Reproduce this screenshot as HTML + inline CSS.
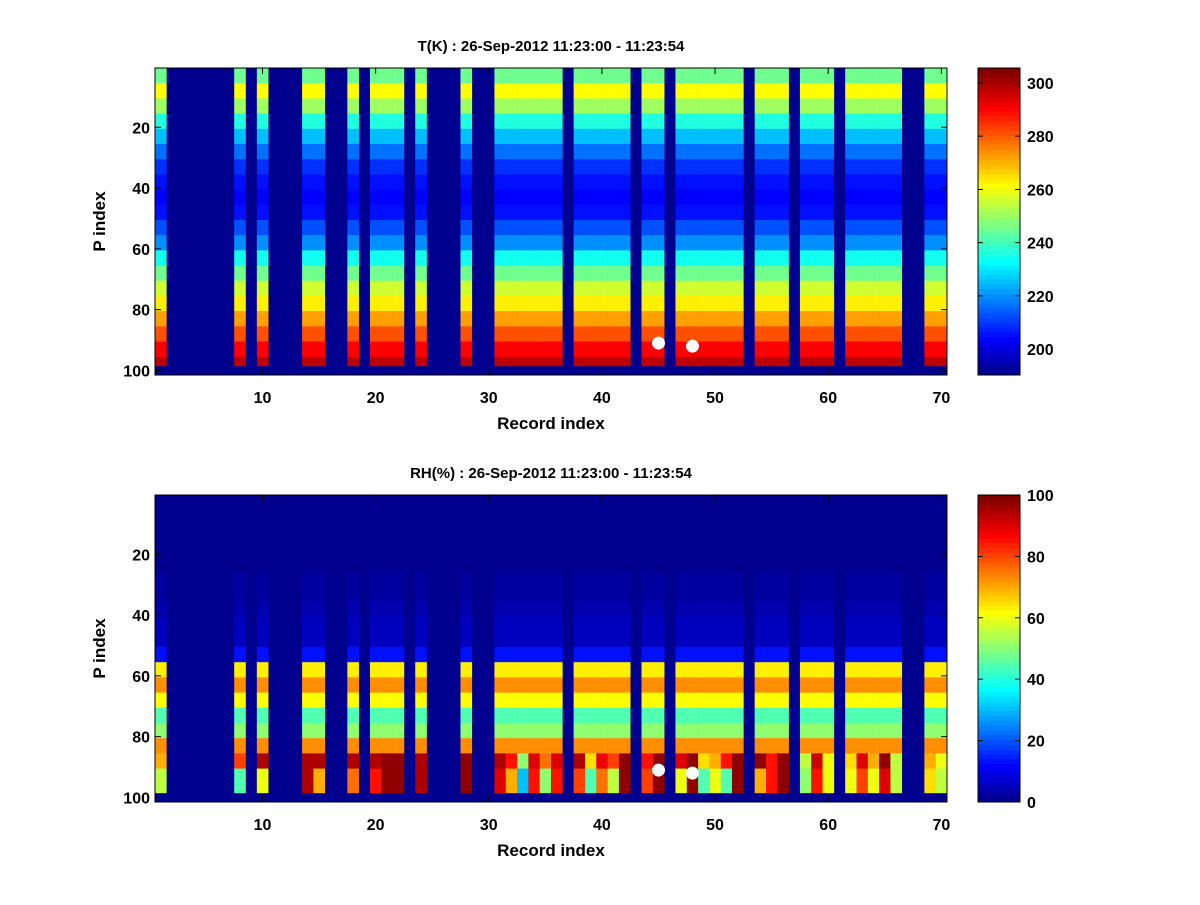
<!DOCTYPE html>
<html><head><meta charset="utf-8"><style>
html,body{margin:0;padding:0;background:#fff;}
svg text{font-family:"Liberation Sans",Arial,sans-serif;font-weight:bold;fill:#000;}
</style></head><body>
<svg id="fig" width="1200" height="900" viewBox="0 0 1200 900" xmlns="http://www.w3.org/2000/svg">
<rect width="1200" height="900" fill="#fff"/>
</svg>
<script>
// ---- data ----
const validCols = [1,8,10,14,15,18,20,21,22,24,28,31,32,33,34,35,36,38,39,40,41,42,44,45,47,48,49,50,51,52,54,55,56,58,59,60,62,63,64,65,66,69,70];
// T profile per 5-row block (rows 1-5,...,96-98)
const tProfile = [245,262,250,236,226,216,210,206,204,206,212,220,234,246,256,264,272,281,291,298];
// RH profile per 5-row block
const rhProfile = [1,1,1,1,1,2,3,4,5,6,14,64,72,62,45,50,72,80,70,60];
// RH lower blocks per column (rows 86-90, rows 91-98)
const rhBot1 = {1:70,8:80,10:95,14:95,15:95,18:95,20:95,21:97,22:97,24:95,28:97,31:95,32:85,33:50,34:90,35:75,36:90,38:95,39:65,40:88,41:80,42:97,44:85,45:97,47:90,48:97,49:65,50:70,51:85,52:97,54:97,55:85,56:97,58:55,59:92,60:60,62:65,63:90,64:70,65:97,66:55,69:70,70:60};
const rhBot2 = {1:55,8:45,10:60,14:95,15:70,18:75,20:85,21:97,22:97,24:95,28:97,31:90,32:70,33:30,34:85,35:50,36:85,38:80,39:45,40:75,41:55,42:97,44:80,45:97,47:60,48:97,49:45,50:60,51:45,52:97,54:70,55:85,56:97,58:50,59:85,60:60,62:60,63:80,64:60,65:90,66:55,69:65,70:55};
const markRecords = [45,48];
const markRows = [91,92];
const tTicks = [200,220,240,260,280,300];
const rhTicks = [0,20,40,60,80,100];
const xTicks = [10,20,30,40,50,60,70];
const yTicks = [20,40,60,80,100];

const NS="http://www.w3.org/2000/svg";
const svg=document.getElementById('fig');
function el(tag,attrs,parent){const e=document.createElementNS(NS,tag);for(const k in attrs)e.setAttribute(k,attrs[k]);(parent||svg).appendChild(e);return e;}
function jet(v,lo,hi){let i=Math.floor((v-lo)/(hi-lo)*64);i=Math.max(0,Math.min(63,i));const t=(i+1)/64;
 const c=x=>Math.round(255*Math.max(0,Math.min(1,1.5-Math.abs(4*t-x))));return `rgb(${c(3)},${c(2)},${c(1)})`;}

function panel(top,title,valueAt,lo,hi,cTicks,prefix){
  const L=155,R=947,T=top,B=top+307;
  const xs=r=>L+(r-0.5)*(R-L)/70, ys=p=>T+(p-0.5)*(B-T)/101;
  const g=el('g',{});
  
  
  el('rect',{x:L,y:T,width:R-L,height:B-T,fill:jet(lo,lo,hi)},g);
  validCols.forEach(c=>{
    for(let b=0;b<20;b++){
      const r0=b*5+1, r1=Math.min(b*5+5,98);
      const cell=el('rect',{x:xs(c-0.5),y:ys(r0-0.5),width:xs(c+0.5)-xs(c-0.5)+0.3,height:ys(r1+0.5)-ys(r0-0.5)+0.3,fill:jet(valueAt(c,b),lo,hi)},g);
      
      
    }
  });
  markRecords.forEach((m,i)=>{const d=el('circle',{cx:xs(m),cy:ys(markRows[i]),r:6.5,fill:'#fff'});
    
    });
  el('rect',{x:L,y:T,width:R-L,height:B-T,fill:'none',stroke:'#000','stroke-width':1});
  xTicks.forEach(t=>{const x=xs(t);el('line',{x1:x,x2:x,y1:B,y2:B-6,stroke:'#000'});el('line',{x1:x,x2:x,y1:T,y2:T+6,stroke:'#000'});
    const tx=el('text',{x:x,y:B+28,'font-size':16,'text-anchor':'middle'});tx.textContent=t;
    
    });
  yTicks.forEach(t=>{const y=ys(t);el('line',{x1:L,x2:L+6,y1:y,y2:y,stroke:'#000'});el('line',{x1:R,x2:R-6,y1:y,y2:y,stroke:'#000'});
    const tx=el('text',{x:L-5,y:y+6,'font-size':16,'text-anchor':'end'});tx.textContent=t;
    
    });
  const ti=el('text',{x:(L+R)/2,y:T-17,'font-size':15,'text-anchor':'middle'});ti.textContent=title;
  
  
  const xl=el('text',{x:(L+R)/2,y:B+54,'font-size':17,'text-anchor':'middle'});xl.textContent='Record index';
  
  
  const yl=el('text',{x:0,y:0,'font-size':17,'text-anchor':'middle',transform:`translate(105,${(T+B)/2}) rotate(-90)`});yl.textContent='P index';
  
  
  // colorbar
  const CL=978,CR=1020;
  const cb=el('g',{});
  
  
  for(let i=0;i<64;i++){const y0=B-(i+1)*(B-T)/64;el('rect',{x:CL,y:y0,width:CR-CL,height:(B-T)/64+0.4,fill:jet(lo+(i+0.5)*(hi-lo)/64,lo,hi)},cb);}
  el('rect',{x:CL,y:T,width:CR-CL,height:B-T,fill:'none',stroke:'#000'},cb);
  cTicks.forEach(t=>{const y=B-(t-lo)/(hi-lo)*(B-T);el('line',{x1:CL,x2:CL+5,y1:y,y2:y,stroke:'#000'},cb);el('line',{x1:CR,x2:CR-5,y1:y,y2:y,stroke:'#000'},cb);
    const tx=el('text',{x:CR+7,y:y+6,'font-size':16},cb);tx.textContent=t;
    
    });
}
panel(68,'T(K) : 26-Sep-2012 11:23:00 - 11:23:54',(c,b)=>tProfile[b],190.3,305.6,tTicks,'temperature');
panel(495,'RH(%) : 26-Sep-2012 11:23:00 - 11:23:54',(c,b)=>{if(b===17)return rhBot1[c];if(b>=18)return rhBot2[c];return rhProfile[b];},0,100,rhTicks,'humidity');
</script>
</body></html>
